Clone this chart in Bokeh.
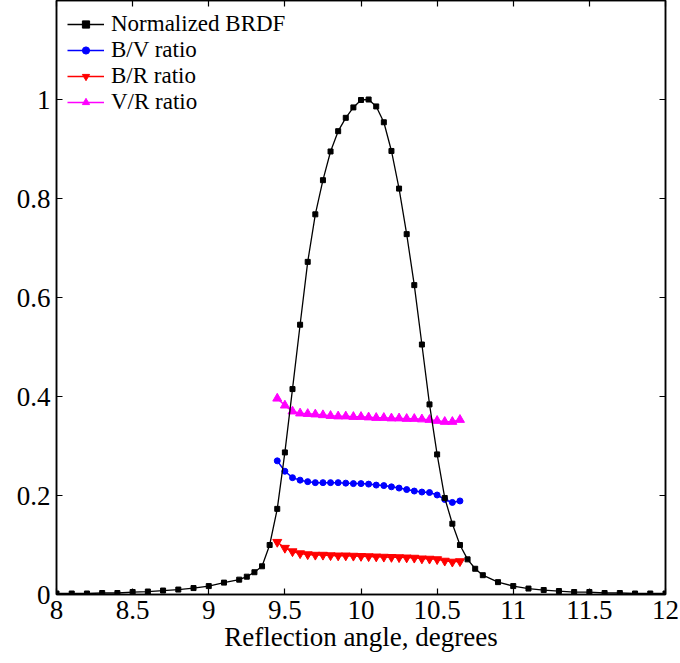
from bokeh.plotting import figure
from bokeh.models import (ColumnDataSource, Legend, LegendItem, LinearAxis,
                          FixedTicker, Range1d)
from bokeh.embed import file_html
from bokeh.resources import INLINE

# ---------------- data ----------------
brdf_x = [8.0, 8.1, 8.2, 8.3, 8.4, 8.5, 8.6, 8.7, 8.8, 8.9, 9.0, 9.1, 9.2,
          9.25, 9.3, 9.35, 9.4, 9.45, 9.5, 9.55, 9.6, 9.65, 9.7, 9.75, 9.8,
          9.85, 9.9, 9.95, 10.0, 10.05, 10.1, 10.15, 10.2, 10.25, 10.3,
          10.35, 10.4, 10.45, 10.5, 10.55, 10.6, 10.65, 10.7, 10.75, 10.8,
          10.9, 11.0, 11.1, 11.2, 11.3, 11.4, 11.5, 11.6, 11.7, 11.8, 11.9,
          12.0]
brdf_y = [0.002, 0.002, 0.002, 0.003, 0.003, 0.005, 0.006, 0.008, 0.010,
          0.013, 0.017, 0.024, 0.030, 0.036, 0.045, 0.057, 0.100, 0.173,
          0.287, 0.415, 0.545, 0.672, 0.768, 0.837, 0.895, 0.936, 0.963,
          0.984, 0.999, 1.000, 0.986, 0.954, 0.896, 0.820, 0.728, 0.625,
          0.505, 0.384, 0.283, 0.195, 0.143, 0.100, 0.071, 0.052, 0.039,
          0.025, 0.017, 0.012, 0.009, 0.007, 0.005, 0.005, 0.003, 0.003,
          0.002, 0.002, 0.002]

ratio_x = [9.45, 9.5, 9.55, 9.6, 9.65, 9.7, 9.75, 9.8, 9.85, 9.9, 9.95,
           10.0, 10.05, 10.1, 10.15, 10.2, 10.25, 10.3, 10.35, 10.4, 10.45,
           10.5, 10.55, 10.6, 10.65]
bv_ratio = [0.270, 0.249, 0.236, 0.231, 0.228, 0.226, 0.226, 0.226, 0.226,
            0.225, 0.224, 0.224, 0.223, 0.221, 0.220, 0.2175, 0.215, 0.212,
            0.209, 0.207, 0.206, 0.201, 0.192, 0.186, 0.189]
br_ratio = [0.106, 0.094, 0.087, 0.083, 0.081, 0.080, 0.080, 0.079, 0.0785,
            0.0785, 0.078, 0.0775, 0.077, 0.0765, 0.076, 0.0755, 0.075,
            0.0745, 0.074, 0.0725, 0.072, 0.071, 0.068, 0.066, 0.067]
vr_ratio = [0.396, 0.382, 0.370, 0.366, 0.365, 0.364, 0.3625, 0.361, 0.360,
            0.360, 0.359, 0.359, 0.358, 0.357, 0.357, 0.356, 0.356, 0.355,
            0.355, 0.354, 0.353, 0.351, 0.349, 0.349, 0.353]

series_names = ["Normalized BRDF", "B/V ratio", "B/R ratio", "V/R ratio"]

x_ticks = [8, 8.5, 9, 9.5, 10, 10.5, 11, 11.5, 12]
x_tick_labels = ["8", "8.5", "9", "9.5", "10", "10.5", "11", "11.5", "12"]
y_ticks = [0, 0.2, 0.4, 0.6, 0.8, 1.0]
y_tick_labels = ["0", "0.2", "0.4", "0.6", "0.8", "1"]

x_label = "Reflection angle, degrees"

# ---------------- figure ----------------
FONT = "Liberation Serif"

p = figure(width=680, height=663, output_backend="svg", toolbar_location=None,
           x_range=Range1d(8, 12), y_range=Range1d(0, 1.2),
           min_border_left=56, min_border_right=15, min_border_top=0,
           min_border_bottom=69)
p.background_fill_color = "white"
p.border_fill_color = "white"
p.outline_line_color = "black"
p.outline_line_width = 1.5
p.xgrid.visible = False
p.ygrid.visible = False
p.axis.visible = False

def style_axis(ax, ticks, labels, show_labels):
    ax.ticker = FixedTicker(ticks=ticks)
    ax.major_tick_in = 6
    ax.major_tick_out = 0
    ax.minor_tick_line_color = None
    ax.axis_line_color = "black"
    ax.axis_line_width = 1.5
    ax.major_tick_line_color = "black"
    ax.major_tick_line_width = 1.2
    ax.major_label_text_font = FONT
    ax.major_label_text_color = "black"
    if show_labels:
        ax.major_label_overrides = {t: l for t, l in zip(ticks, labels)}
        ax.major_label_text_font_size = "27px"
        ax.major_label_standoff = 6
    else:
        ax.major_label_overrides = {t: "" for t in ticks}
        ax.major_label_standoff = 0

xb = LinearAxis()
style_axis(xb, x_ticks, x_tick_labels, True)
xb.axis_label = x_label
xb.axis_label_text_font = FONT
xb.axis_label_text_font_style = "normal"
xb.axis_label_text_font_size = "27px"
xb.axis_label_text_color = "black"
xb.axis_label_standoff = 0
p.add_layout(xb, "below")

yl = LinearAxis()
style_axis(yl, y_ticks, y_tick_labels, True)
p.add_layout(yl, "left")

xt = LinearAxis()
style_axis(xt, x_ticks, x_tick_labels, False)
p.add_layout(xt, "above")

yr = LinearAxis()
style_axis(yr, y_ticks, y_tick_labels, False)
p.add_layout(yr, "right")

# ---------------- series ----------------
src_b = ColumnDataSource(dict(x=brdf_x, y=brdf_y))
src_r = ColumnDataSource(dict(x=ratio_x, bv=bv_ratio, br=br_ratio, vr=vr_ratio))

l_vr = p.line("x", "vr", source=src_r, line_color="#ff00ff", line_width=1.5)
m_vr = p.scatter("x", "vr", source=src_r, marker="triangle", size=9,
                 fill_color="#ff00ff", line_color="#ff00ff")
l_bv = p.line("x", "bv", source=src_r, line_color="#0000ff", line_width=1.5)
m_bv = p.scatter("x", "bv", source=src_r, marker="circle", size=6,
                 fill_color="#0000ff", line_color="#0000ff")
l_br = p.line("x", "br", source=src_r, line_color="#ff0000", line_width=1.5)
m_br = p.scatter("x", "br", source=src_r, marker="inverted_triangle", size=9,
                 fill_color="#ff0000", line_color="#ff0000")
l_b = p.line("x", "y", source=src_b, line_color="black", line_width=1.3)
m_b = p.scatter("x", "y", source=src_b, marker="square", size=5,
                fill_color="black", line_color="black")

legend = Legend(items=[
    LegendItem(label=series_names[0], renderers=[l_b, m_b]),
    LegendItem(label=series_names[1], renderers=[l_bv, m_bv]),
    LegendItem(label=series_names[2], renderers=[l_br, m_br]),
    LegendItem(label=series_names[3], renderers=[l_vr, m_vr]),
])
legend.location = "top_left"
legend.border_line_color = None
legend.background_fill_alpha = 0
legend.label_text_font = FONT
legend.label_text_font_size = "23px"
legend.label_text_color = "black"
legend.glyph_width = 37
legend.glyph_height = 18
legend.label_height = 18
legend.label_standoff = 7
legend.spacing = 0
legend.padding = 4
legend.margin = 11
p.add_layout(legend)

open("out.html", "w").write(file_html(p, INLINE))
